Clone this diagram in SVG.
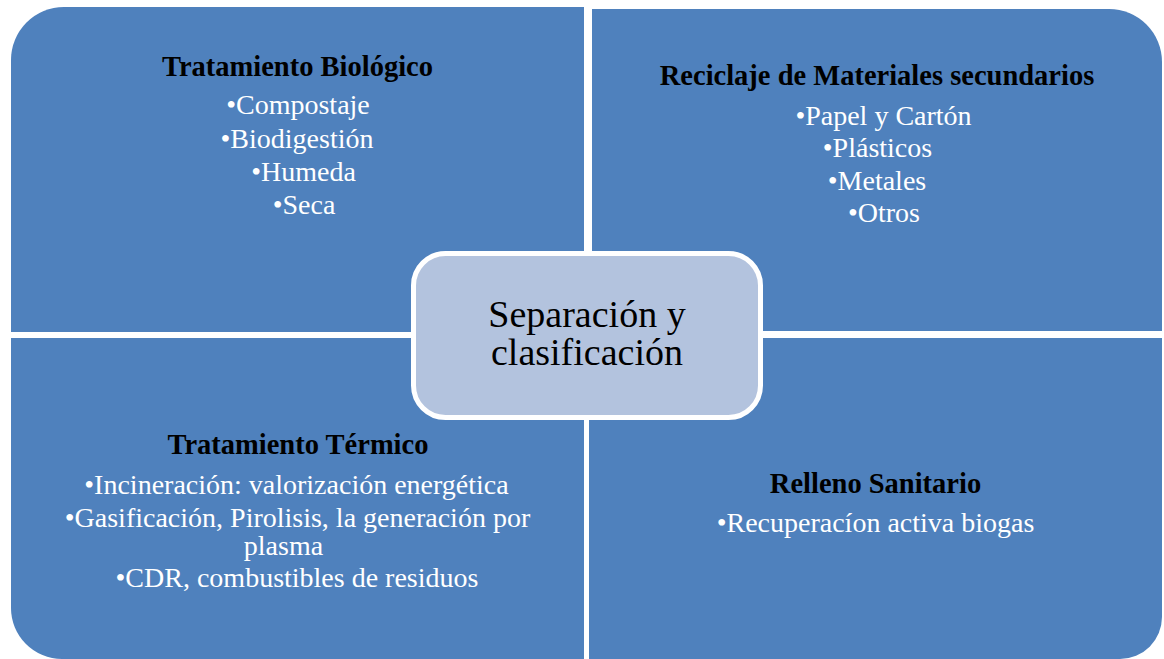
<svg xmlns="http://www.w3.org/2000/svg" width="1164" height="659" viewBox="0 0 1164 659">
<style>
.q{fill:#4F81BD}
.t{font-family:"Liberation Serif",serif;font-size:28.5px;font-weight:bold;fill:#000;text-anchor:middle}
.i{font-family:"Liberation Serif",serif;font-size:28px;fill:#fff;text-anchor:middle}
.c{font-family:"Liberation Serif",serif;font-size:38px;fill:#000;text-anchor:middle}
</style>
<rect width="1164" height="659" fill="#fff"/>
<g id="tratamiento-biologico">
<path class="q" d="M11,60 A53,53 0 0 1 64,7 H584 V332 H11 Z"/>
<text class="t" x="297.5" y="76">Tratamiento Biológico</text>
<text class="i" x="298" y="114">•Compostaje</text>
<text class="i" x="297" y="148">•Biodigestión</text>
<text class="i" x="303.5" y="181">•Humeda</text>
<text class="i" x="304" y="214">•Seca</text>
</g>
<g id="reciclaje">
<path class="q" d="M592,9 H1109 A53,53 0 0 1 1162,62 V331 H592 Z"/>
<text class="t" x="877" y="85">Reciclaje de Materiales secundarios</text>
<text class="i" x="883.5" y="125">•Papel y Cartón</text>
<text class="i" x="877.5" y="157">•Plásticos</text>
<text class="i" x="877" y="190">•Metales</text>
<text class="i" x="884" y="222">•Otros</text>
</g>
<g id="tratamiento-termico">
<path class="q" d="M11,338 H584 V659 H62 A51,51 0 0 1 11,608 Z"/>
<text class="t" x="298" y="454">Tratamiento Térmico</text>
<text class="i" x="296.5" y="494">•Incineración: valorización energética</text>
<text class="i" x="297.5" y="527">•Gasificación, Pirolisis, la generación por</text>
<text class="i" x="283.5" y="555">plasma</text>
<text class="i" x="297" y="587">•CDR, combustibles de residuos</text>
</g>
<g id="relleno-sanitario">
<path class="q" d="M589,338 H1162 V617 A42,42 0 0 1 1120,659 H589 Z"/>
<text class="t" x="875.5" y="493">Relleno Sanitario</text>
<text class="i" x="875.5" y="532">•Recuperacíon activa biogas</text>
</g>
<g id="connectors"></g>
<g id="separacion">
<rect x="413.5" y="253.5" width="347" height="164" rx="32" fill="#B3C3DE" stroke="#fff" stroke-width="5"/>
<text class="c" x="587" y="327">Separación y</text>
<text class="c" x="587" y="365">clasificación</text>
</g>
</svg>
